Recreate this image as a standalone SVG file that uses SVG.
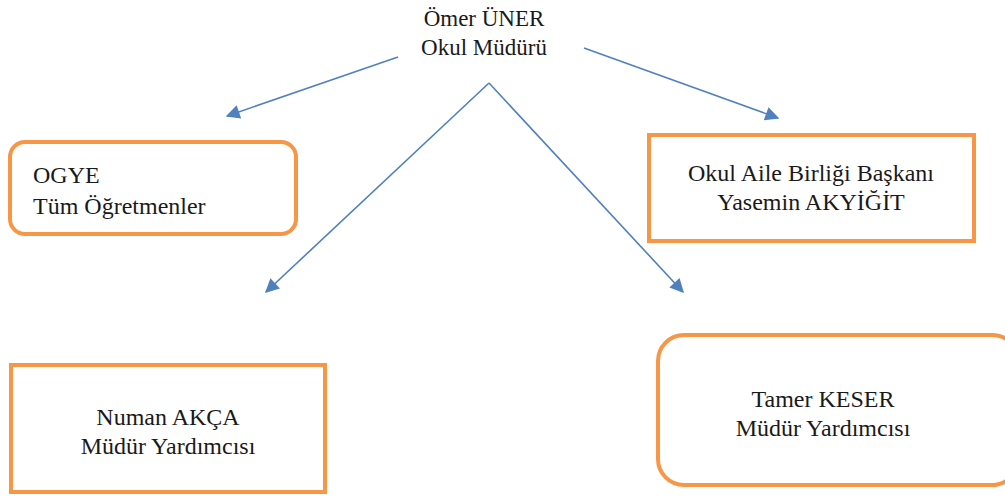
<svg xmlns="http://www.w3.org/2000/svg" width="1005" height="502" viewBox="0 0 1005 502">
<style>
text{font-family:"Liberation Serif","Times New Roman",serif;font-size:24px;fill:#1a1a1a}
.h{font-size:23px}
.c{text-anchor:middle}
.box{fill:#fff;stroke:#F79646;stroke-width:4}
.conn{stroke:#4F81BD;stroke-width:1.6;fill:none}
</style>
<defs>
<marker id="a" viewBox="0 0 10 10" refX="9" refY="5" markerWidth="16" markerHeight="14" markerUnits="userSpaceOnUse" orient="auto">
<path d="M0,0 L10,5 L0,10 z" fill="#4F81BD"/>
</marker>
</defs>
<g id="connectors">
<line class="conn" x1="398" y1="57" x2="227" y2="116" marker-end="url(#a)"/>
<line class="conn" x1="584" y1="48" x2="778" y2="118" marker-end="url(#a)"/>
<line class="conn" x1="489" y1="83" x2="266" y2="292" marker-end="url(#a)"/>
<line class="conn" x1="489" y1="83" x2="683" y2="292" marker-end="url(#a)"/>
</g>
<g id="root">
<text class="h c" x="484" y="26">Ömer ÜNER</text>
<text class="h c" x="484" y="55">Okul Müdürü</text>
</g>
<g id="ogye">
<rect class="box" x="10" y="142" width="286" height="92" rx="15"/>
<text x="33" y="183">OGYE</text>
<text x="33" y="214">Tüm Öğretmenler</text>
</g>
<g id="aile">
<rect class="box" x="649" y="135" width="325" height="106"/>
<text class="c" x="811" y="181">Okul Aile Birliği Başkanı</text>
<text class="c" x="811" y="210">Yasemin AKYİĞİT</text>
</g>
<g id="numan">
<rect class="box" x="11" y="365" width="314" height="127"/>
<text class="c" x="168" y="425">Numan AKÇA</text>
<text class="c" x="168" y="454">Müdür Yardımcısı</text>
</g>
<g id="tamer">
<rect class="box" x="658" y="335" width="360" height="150" rx="26"/>
<text class="c" x="823" y="407">Tamer KESER</text>
<text class="c" x="823" y="436">Müdür Yardımcısı</text>
</g>
</svg>
